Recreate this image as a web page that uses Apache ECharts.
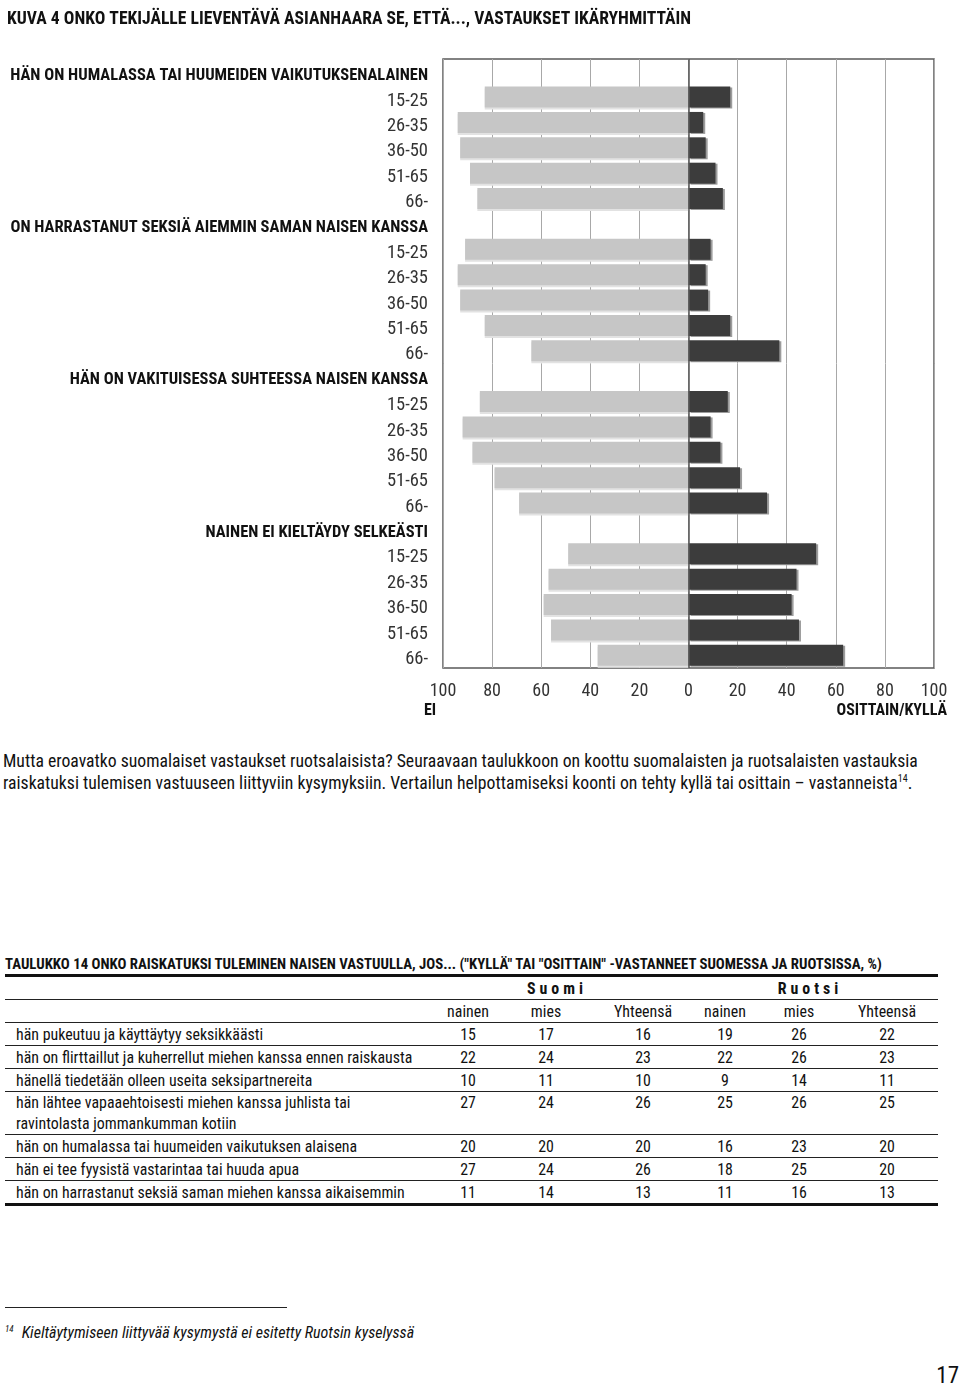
<!DOCTYPE html>
<html>
<head>
<meta charset="utf-8">
<script src="https://cdn.jsdelivr.net/npm/echarts@6/dist/echarts.min.js"></script>
<style>
  html, body { margin: 0; padding: 0; background: #fff; }
  #page { position: relative; width: 960px; height: 1385px; background: #fff; overflow: hidden; color: #111;
          font-family: 'Roboto Condensed', 'DejaVu Sans Condensed', sans-serif; }
  #chart { position: absolute; left: 0; top: 0; width: 960px; height: 728px; }
  .para { position: absolute; left: 3px; top: 750px; font-size: 17.7px; line-height: 22px; white-space: nowrap; color: #111; }
  .para sup { font-size: 10px; vertical-align: 7px; line-height: 0; }
  .ttitle { position: absolute; left: 5px; top: 955px; font-size: 14.8px; font-weight: bold; white-space: nowrap; }
  table { position: absolute; left: 5px; top: 974px; border-collapse: collapse; table-layout: fixed; width: 933px;
          font-size: 15.9px; border-top: 3px solid #111; border-bottom: 3px solid #111; }
  td { padding: 0; height: 22px; border-bottom: 1.5px solid #222; text-align: center; white-space: nowrap; vertical-align: middle; }
  td.lab { text-align: left; padding-left: 11px; }
  td.two { height: 42px; vertical-align: top; line-height: 21px; }
  tr.grp td { font-weight: bold; letter-spacing: 4px; }
  .frule { position: absolute; left: 5px; top: 1307px; width: 282px; height: 0; border-top: 1.5px solid #222; }
  .fnote { position: absolute; left: 5px; top: 1323px; font-size: 16px; font-style: italic; white-space: nowrap; }
  .fnote sup { font-size: 9px; vertical-align: 6px; margin-right: 8px; }
  .pnum { position: absolute; right: 1px; top: 1362px; font-size: 23px; }
</style>
</head>
<body>
<div id="page">
  <div id="chart"></div>

  <div class="para">Mutta eroavatko suomalaiset vastaukset ruotsalaisista? Seuraavaan taulukkoon on koottu suomalaisten ja ruotsalaisten vastauksia<br>raiskatuksi tulemisen vastuuseen liittyviin kysymyksiin. Vertailun helpottamiseksi koonti on tehty kyllä tai osittain – vastanneista<sup>14</sup>.</div>

  <div class="ttitle" id="ttitle"></div>
  <table id="tbl"></table>

  <div class="frule"></div>
  <div class="fnote"><sup>14</sup>Kieltäytymiseen liittyvää kysymystä ei esitetty Ruotsin kyselyssä</div>
  <div class="pnum">17</div>
</div>

<script>
// ---------- chart data ----------
const chartTitle = 'KUVA 4 ONKO TEKIJÄLLE LIEVENTÄVÄ ASIANHAARA SE, ETTÄ..., VASTAUKSET IKÄRYHMITTÄIN';
const groups = [
  'HÄN ON HUMALASSA TAI HUUMEIDEN VAIKUTUKSENALAINEN',
  'ON HARRASTANUT SEKSIÄ AIEMMIN SAMAN NAISEN KANSSA',
  'HÄN ON VAKITUISESSA SUHTEESSA NAISEN KANSSA',
  'NAINEN EI KIELTÄYDY SELKEÄSTI'
];
const ageGroups = ['15-25', '26-35', '36-50', '51-65', '66-'];
// "EI" shares per group, by age group
const eiValues = [
  [83, 94, 93, 89, 86],
  [91, 94, 93, 83, 64],
  [85, 92, 88, 79, 69],
  [49, 57, 59, 56, 37]
];
// "OSITTAIN/KYLLÄ" shares per group, by age group
const kyllaValues = [
  [17, 6, 7, 11, 14],
  [9, 7, 8, 17, 37],
  [16, 9, 13, 21, 32],
  [52, 44, 42, 45, 63]
];
const axisTicks = [-100, -80, -60, -40, -20, 0, 20, 40, 60, 80, 100];
const leftAxisName = 'EI';
const rightAxisName = 'OSITTAIN/KYLLÄ';

// ---------- table data ----------
const tableTitle = 'TAULUKKO 14 ONKO RAISKATUKSI TULEMINEN NAISEN VASTUULLA, JOS... ("KYLLÄ" TAI "OSITTAIN" -VASTANNEET SUOMESSA JA RUOTSISSA, %)';
const countries = ['Suomi', 'Ruotsi'];
const subHeads = ['nainen', 'mies', 'Yhteensä', 'nainen', 'mies', 'Yhteensä'];
const rowLabels = [
  'hän pukeutuu ja käyttäytyy seksikkäästi',
  'hän on flirttaillut ja kuherrellut miehen kanssa ennen raiskausta',
  'hänellä tiedetään olleen useita seksipartnereita',
  'hän lähtee vapaaehtoisesti miehen kanssa juhlista tai<br>ravintolasta jommankumman kotiin',
  'hän on humalassa tai huumeiden vaikutuksen alaisena',
  'hän ei tee fyysistä vastarintaa tai huuda apua',
  'hän on harrastanut seksiä saman miehen kanssa aikaisemmin'
];
const suomiNainen = [15, 22, 10, 27, 20, 27, 11];
const suomiMies = [17, 24, 11, 24, 20, 24, 14];
const suomiYht = [16, 23, 10, 26, 20, 26, 13];
const ruotsiNainen = [19, 22, 9, 25, 16, 18, 11];
const ruotsiMies = [26, 26, 14, 26, 23, 25, 16];
const ruotsiYht = [22, 23, 11, 25, 20, 20, 13];

const FAMILY = "'Roboto Condensed', 'DejaVu Sans Condensed', sans-serif";

// ---------- build table ----------
(function () {
  document.getElementById('ttitle').textContent = tableTitle;
  const colW = [425, 76, 80, 114, 50, 98, 90];
  let html = '<colgroup>' + colW.map(w => '<col style="width:' + w + 'px">').join('') + '</colgroup>';
  html += '<tr class="grp"><td></td><td colspan="3" style="padding-right:16px">' + countries[0] +
          '</td><td colspan="3" style="padding-right:18px">' + countries[1] + '</td></tr>';
  html += '<tr><td></td>' + subHeads.map((s, i) => '<td' + (i === 5 ? ' style="padding-right:12px"' : '') + '>' + s + '</td>').join('') + '</tr>';
  const cols = [suomiNainen, suomiMies, suomiYht, ruotsiNainen, ruotsiMies, ruotsiYht];
  rowLabels.forEach((lab, r) => {
    const two = lab.indexOf('<br>') >= 0;
    html += '<tr><td class="lab' + (two ? ' two' : '') + '">' + lab + '</td>' +
      cols.map((c, i) => '<td class="' + (two ? 'two' : '') + '"' + (i === 5 ? ' style="padding-right:12px"' : '') + '>' + c[r] + '</td>').join('') + '</tr>';
  });
  document.getElementById('tbl').innerHTML = html;
})();

// ---------- build chart ----------
const categories = [];
const eiData = [];
const kyllaData = [];
groups.forEach((g, gi) => {
  categories.push('H|' + g);
  eiData.push(null);
  kyllaData.push(null);
  ageGroups.forEach((a, ai) => {
    categories.push('A|' + gi + '|' + a);
    eiData.push(-eiValues[gi][ai]);
    kyllaData.push(kyllaValues[gi][ai]);
  });
});

const chart = echarts.init(document.getElementById('chart'), null, { renderer: 'canvas' });
chart.setOption({
  animation: false,
  backgroundColor: '#fff',
  title: {
    text: chartTitle, left: 2, top: 6,
    textStyle: { fontFamily: FAMILY, fontSize: 17.6, fontWeight: 'bold', color: '#111' }
  },
  grid: { left: 443, right: 26, top: 59, height: 609, containLabel: false, outerBoundsMode: 'none',
          show: true, borderColor: '#5a5a5a', borderWidth: 1.5, backgroundColor: 'transparent' },
  xAxis: {
    type: 'value', min: axisTicks[0], max: axisTicks[axisTicks.length - 1], interval: 20,
    axisLine: { show: false }, axisTick: { show: false },
    splitLine: { show: true, lineStyle: { color: '#a8a8a8', width: 1 } },
    axisLabel: { formatter: v => String(Math.abs(v)), fontFamily: FAMILY, fontSize: 18, color: '#333', margin: 14 }
  },
  yAxis: {
    type: 'category', inverse: true, data: categories,
    axisLine: { show: false, onZero: false }, axisTick: { show: false },
    axisLabel: {
      margin: 15, interval: 0,
      formatter: v => {
        const p = v.split('|');
        return p[0] === 'H' ? '{h|' + p[1] + '}' : '{a|' + p[2] + '}';
      },
      rich: {
        h: { fontFamily: FAMILY, fontSize: 16.5, fontWeight: 'bold', color: '#111', padding: [8, 0, 0, 0] },
        a: { fontFamily: FAMILY, fontSize: 18.5, color: '#333', padding: [8, 0, 0, 0] }
      }
    }
  },
  graphic: [
    { type: 'text', left: 424, top: 703, style: { text: leftAxisName, fontFamily: FAMILY, fontSize: 16, fontWeight: 'bold', fill: '#111' } },
    { type: 'text', right: 13, top: 703, style: { text: rightAxisName, fontFamily: FAMILY, fontSize: 16, fontWeight: 'bold', fill: '#111' } }
  ],
  series: [
    {
      name: leftAxisName, type: 'bar', data: eiData, barWidth: 21, barGap: '-100%',
      itemStyle: { color: '#c6c6c6', shadowColor: '#e2e2e2', shadowOffsetX: 0, shadowOffsetY: 2, shadowBlur: 0 }
    },
    {
      name: rightAxisName, type: 'bar', data: kyllaData, barWidth: 21, barGap: '-100%',
      itemStyle: { color: '#3c3c3c', shadowColor: '#9c9c9c', shadowOffsetX: 2, shadowOffsetY: 1, shadowBlur: 0 },
      markLine: {
        silent: true, symbol: 'none', label: { show: false },
        lineStyle: { color: '#555', width: 1.5, type: 'solid' },
        data: [{ xAxis: 0 }]
      }
    }
  ]
});
</script>
</body>
</html>
